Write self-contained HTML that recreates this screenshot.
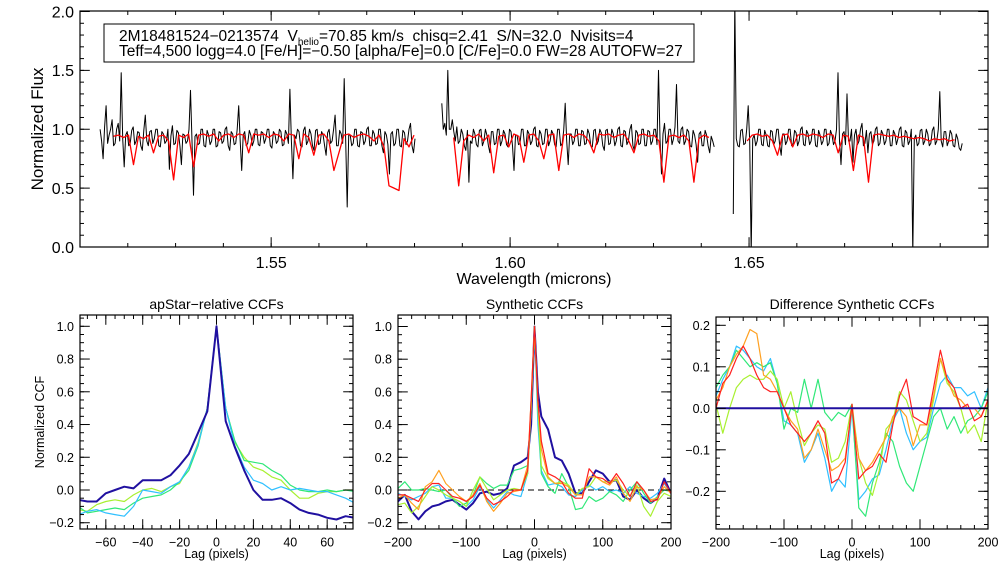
<!DOCTYPE html>
<html><head><meta charset="utf-8"><style>
html,body{margin:0;padding:0;background:#fff;}
svg{display:block;font-family:"Liberation Sans",sans-serif;}
</style></head><body>
<svg id="fig" width="1008" height="576" viewBox="0 0 1008 576" xmlns="http://www.w3.org/2000/svg"></svg>
<script>
// ---------- TOP SPECTRUM DATA ----------
const specXTicks = [1.55, 1.60, 1.65];
const specYTicks = [0.0, 0.5, 1.0, 1.5, 2.0];
const chip1Range = [1.5142, 1.5801];
const chip1Flux = [1.0,0.9,0.75,1.02,1.2,0.88,0.95,1.0,1.08,0.86,0.88,1.0,1.05,0.9,1.48,0.92,0.68,0.95,0.98,0.86,
0.88,0.99,1.02,0.87,0.9,0.98,0.97,0.86,0.82,0.99,1.12,0.9,0.86,0.98,0.99,0.88,0.92,1.0,1.0,0.86,
0.85,0.98,0.96,0.88,0.9,1.0,0.66,0.94,1.03,0.87,0.88,0.99,0.97,0.86,0.7,0.96,0.95,0.88,0.9,1.0,
1.33,0.9,0.44,0.94,0.96,0.87,0.88,1.0,1.0,0.86,0.85,0.99,0.95,0.87,0.9,1.0,1.0,0.85,0.86,0.98,
0.97,0.88,0.9,1.0,1.02,0.86,0.82,0.98,0.96,0.87,0.88,1.0,1.2,0.9,0.65,0.95,0.98,0.86,0.88,0.99,
0.95,0.86,0.9,1.0,1.0,0.87,0.86,0.98,0.97,0.88,0.92,1.0,1.0,0.86,0.84,0.98,0.96,0.88,0.9,1.0,
0.98,0.86,0.87,0.99,0.96,0.88,1.34,0.9,0.58,0.95,0.92,1.0,0.98,0.86,0.85,0.99,1.02,0.87,0.9,1.0,
0.96,0.86,0.82,0.99,1.0,0.87,0.88,0.98,0.95,0.86,0.78,0.97,1.0,0.88,0.9,1.0,1.12,0.86,0.86,0.99,
0.96,0.88,1.43,0.9,0.34,0.95,0.95,0.86,0.88,1.0,1.0,0.86,0.85,0.98,0.97,0.87,0.9,1.0,1.02,0.86,
0.86,0.99,0.96,0.87,0.88,1.0,1.0,0.86,0.8,0.98,0.95,0.87,0.62,0.96,0.98,0.86,0.88,1.0,1.0,0.86,
0.85,0.99,0.97,0.87,0.9,1.0,1.05,0.86,0.8,0.92];
const chip1ModelRange = [1.5170, 1.5799];
const chip1Model = [0.94,0.95,0.93,0.95,0.7,0.94,0.92,0.95,0.8,0.94,
0.95,0.9,0.57,0.95,0.93,0.96,0.68,0.95,0.96,0.94,
0.96,0.9,0.95,0.96,0.93,0.96,0.95,0.8,0.96,0.95,
0.96,0.93,0.96,0.95,0.9,0.96,0.95,0.75,0.96,0.93,
0.78,0.95,0.96,0.9,0.65,0.8,0.95,0.96,0.93,0.95,
0.96,0.94,0.9,0.95,0.85,0.52,0.5,0.48,0.92,0.85,0.95];
const chip2Range = [1.5857, 1.6427];
const chip2Flux = [1.22,1.0,1.05,0.95,1.5,1.0,1.0,1.08,0.98,0.9,1.02,0.88,0.9,1.0,0.96,0.86,0.82,0.99,0.55,0.9,
0.88,1.0,0.96,0.87,0.85,0.99,1.0,0.86,0.9,1.0,0.95,0.86,0.8,0.98,0.98,0.87,0.88,1.0,1.0,0.86,
0.9,0.99,0.96,0.87,0.85,1.0,0.98,0.86,0.65,0.95,0.95,0.87,0.88,1.0,1.0,0.86,0.86,0.99,0.96,0.87,
0.9,1.0,1.02,0.86,0.85,0.99,0.96,0.87,0.88,1.0,1.0,0.86,0.9,0.99,0.96,0.87,0.85,1.0,1.0,0.86,
0.88,0.99,1.22,0.9,0.7,0.96,0.96,0.87,0.9,1.0,1.0,0.86,0.86,0.99,0.98,0.87,0.88,1.0,0.96,0.86,
0.85,0.99,1.0,0.87,0.9,1.0,0.97,0.86,0.82,0.99,1.0,0.87,0.88,1.0,0.96,0.86,0.9,1.0,1.02,0.86,
0.85,0.99,0.98,0.87,0.9,1.0,1.04,0.86,0.82,0.99,0.97,0.87,0.88,1.0,1.0,0.86,0.86,0.99,0.98,0.87,
0.9,1.0,1.0,0.87,1.5,0.92,0.62,0.96,1.05,0.88,0.9,1.0,1.0,0.87,0.92,1.02,1.38,0.9,0.88,1.0,
1.02,0.87,0.9,1.0,0.98,0.86,0.85,0.99,0.95,0.87,0.72,0.96,0.98,0.86,0.86,0.99,0.95,0.86,0.8,0.94,
0.9,0.85];
const chip2ModelRange = [1.5882, 1.6416];
const chip2Model = [0.93,0.52,0.9,0.95,0.93,0.96,0.9,0.95,0.63,0.94,
0.95,0.85,0.96,0.94,0.72,0.95,0.96,0.9,0.75,0.95,
0.96,0.65,0.95,0.96,0.93,0.96,0.95,0.9,0.8,0.96,
0.95,0.96,0.93,0.95,0.96,0.9,0.8,0.95,0.96,0.94,
0.95,0.9,0.55,0.94,0.95,0.93,0.95,0.9,0.55,0.92,0.95,0.93];
const chip3Range = [1.6467, 1.6946];
const chip3Flux = [0.28,2.1,
0.92,0.86,0.85,0.99,1.0,0.87,0.88,1.0,1.2,0.9,-0.05,0.92,0.95,0.86,0.9,1.0,1.0,0.87,0.86,0.99,
0.95,0.86,0.85,0.99,0.98,0.87,0.9,1.0,1.0,0.86,0.78,0.96,0.96,0.87,0.9,1.0,1.0,0.86,0.88,0.99,
0.97,0.86,0.9,1.0,1.02,0.87,0.86,0.99,0.96,0.87,0.9,1.0,1.0,0.86,0.85,0.99,0.95,0.87,0.9,1.0,
1.0,0.86,0.88,0.99,0.95,0.87,0.9,1.0,1.48,0.9,0.7,0.96,0.98,0.87,1.3,0.9,0.9,1.0,0.72,0.95,
1.0,0.87,0.9,1.0,1.05,0.86,0.88,0.99,0.8,0.96,0.98,0.87,0.9,1.0,1.02,0.86,0.88,0.99,0.96,0.87,
0.9,1.0,1.0,0.86,0.86,0.99,0.96,0.87,0.92,1.0,1.02,0.86,0.85,0.99,0.97,0.87,0.9,1.0,-0.05,0.92,
0.95,0.86,0.88,0.99,1.0,0.87,0.9,1.0,0.96,0.86,0.88,0.99,1.02,0.87,0.9,1.0,1.32,0.9,0.85,0.98,
0.98,0.86,0.9,0.99,0.96,0.86,0.85,0.96,0.92,0.84,0.82,0.88];
const chip3ModelRange = [1.6496, 1.6930];
const chip3Model = [0.9,0.95,0.96,0.94,0.95,0.9,0.78,0.95,0.96,0.85,
0.95,0.96,0.94,0.96,0.95,0.93,0.96,0.95,0.8,0.95,
0.94,0.65,0.95,0.93,0.55,0.95,0.96,0.95,0.94,0.95,
0.93,0.94,0.93,0.92,0.93,0.92,0.9,0.92,0.91,0.92,0.9,0.91];

// ---------- CCF PANEL 1 DATA ----------
const p1Lags = [-75,-70,-65,-60,-55,-50,-45,-40,-35,-30,-25,-20,-15,-10,-5,0,5,10,15,20,25,30,35,40,45,50,55,60,65,70,75];
const p1XTicks = [-60,-40,-20,0,20,40,60];
const p1YTicks = [-0.2,0.0,0.2,0.4,0.6,0.8,1.0];
const p1Navy = [-0.06,-0.07,-0.07,-0.02,0.0,0.02,0.01,0.06,0.06,0.06,0.09,0.15,0.22,0.35,0.48,1.0,0.42,0.26,0.12,0.0,-0.06,-0.06,-0.05,-0.08,-0.12,-0.14,-0.15,-0.17,-0.18,-0.16,-0.17];
const p1Cyan = [-0.15,-0.13,-0.12,-0.14,-0.15,-0.16,-0.1,0.0,-0.01,-0.02,0.02,0.05,0.14,0.28,0.5,1.0,0.5,0.27,0.14,0.06,0.04,0.0,0.02,0.0,0.01,0.0,-0.01,-0.01,-0.03,-0.05,-0.08];
const p1Green = [-0.1,-0.14,-0.13,-0.12,-0.11,-0.12,-0.08,-0.05,-0.04,-0.03,0.0,0.05,0.12,0.27,0.5,1.0,0.5,0.3,0.18,0.17,0.16,0.12,0.09,0.03,0.0,-0.01,-0.01,0.0,-0.01,0.0,-0.01];
const p1Lime = [-0.12,-0.13,-0.09,-0.07,-0.06,-0.07,-0.03,0.0,0.01,-0.01,0.02,0.04,0.14,0.29,0.5,1.0,0.5,0.29,0.2,0.14,0.12,0.08,0.06,0.0,-0.05,-0.05,-0.02,-0.01,-0.01,0.0,0.0];

// ---------- CCF PANEL 2 DATA ----------
const p2Lags = [-200,-190,-180,-170,-160,-150,-140,-130,-120,-110,-100,-90,-80,-70,-60,-50,-40,-30,-20,-10,-5,0,5,10,20,30,40,50,60,70,80,90,100,110,120,130,140,150,160,170,180,190,200];
const p2XTicks = [-200,-100,0,100,200];
const p2YTicks = [-0.2,0.0,0.2,0.4,0.6,0.8,1.0];
const p2Navy = [-0.07,-0.03,-0.13,-0.18,-0.13,-0.1,-0.09,-0.07,-0.06,-0.09,-0.12,-0.08,-0.02,-0.01,-0.03,-0.02,0.01,0.15,0.17,0.2,0.4,1.0,0.6,0.45,0.37,0.2,0.18,0.1,-0.02,-0.02,0.05,0.12,0.1,0.05,0.06,-0.04,-0.06,0.0,-0.05,-0.08,-0.05,0.07,-0.02];
const p2Cyan = [-0.02,-0.04,-0.06,-0.04,-0.02,0.02,0.03,-0.05,-0.05,-0.07,-0.1,-0.06,0.02,-0.06,-0.11,-0.06,-0.01,-0.03,-0.04,0.1,0.5,1.0,0.4,0.12,0.03,0.04,0.02,-0.03,-0.04,0.0,0.03,0.0,0.02,-0.01,0.0,-0.02,0.02,-0.02,-0.04,-0.05,-0.02,0.04,-0.02];
const p2Green = [0.01,0.05,0.0,0.0,0.01,0.0,-0.01,0.0,-0.05,-0.1,-0.08,-0.03,0.08,0.04,0.01,0.03,0.03,0.12,0.13,0.15,0.5,1.0,0.5,0.1,0.02,-0.02,0.1,0.02,-0.12,-0.11,-0.04,-0.07,-0.05,-0.01,-0.03,-0.07,0.0,0.05,-0.02,-0.08,-0.04,0.0,-0.01];
const p2Lime = [-0.09,-0.08,-0.14,-0.1,-0.04,0.02,0.0,-0.03,-0.05,-0.07,-0.1,0.0,0.08,0.01,-0.06,-0.03,0.0,0.01,0.0,0.1,0.5,1.0,0.5,0.15,0.07,0.04,0.05,0.03,-0.03,0.01,0.02,0.08,0.05,0.05,0.06,0.0,-0.04,0.03,-0.1,-0.16,-0.07,-0.02,-0.04];
const p2Orange = [-0.05,-0.03,-0.08,-0.12,0.02,0.05,0.12,0.04,0.0,-0.04,-0.07,-0.03,0.04,-0.07,-0.13,-0.08,-0.02,-0.01,0.0,0.15,0.55,1.0,0.55,0.25,0.08,0.04,0.04,0.02,-0.03,-0.03,0.08,0.08,0.05,0.03,0.08,-0.02,-0.07,0.02,0.0,-0.06,-0.05,0.02,-0.02];
const p2Red = [-0.03,-0.03,-0.05,-0.07,0.0,0.04,0.04,0.0,-0.04,-0.05,-0.07,-0.04,0.03,-0.05,-0.09,-0.07,-0.04,0.0,0.0,0.12,0.55,1.0,0.55,0.3,0.1,0.08,0.05,-0.02,-0.05,-0.05,0.13,0.08,0.07,0.04,0.1,0.04,-0.04,0.05,0.0,-0.07,-0.06,0.05,-0.02];

// ---------- CCF PANEL 3 DATA ----------
const p3Lags = [-200,-190,-180,-170,-160,-150,-140,-130,-120,-110,-100,-90,-80,-70,-60,-50,-40,-30,-20,-10,0,10,20,30,40,50,60,70,80,90,100,110,120,130,140,150,160,170,180,190,200];
const p3XTicks = [-200,-100,0,100,200];
const p3YTicks = [-0.2,-0.1,0.0,0.1,0.2];
const p3Cyan = [0.03,0.07,0.1,0.15,0.14,0.12,0.1,0.09,0.12,0.06,-0.03,-0.04,-0.06,-0.13,-0.1,-0.06,-0.12,-0.2,-0.17,-0.19,0.0,-0.22,-0.2,-0.17,-0.16,-0.1,-0.03,0.0,-0.06,-0.1,-0.08,-0.07,0.0,0.06,0.08,0.05,0.05,0.03,0.04,0.0,0.05];
const p3Green = [0.05,0.08,0.1,0.14,0.12,0.1,0.11,0.1,0.11,0.06,-0.05,0.0,-0.01,0.07,0.0,0.07,-0.01,-0.03,-0.01,-0.02,0.01,-0.24,-0.26,-0.18,-0.13,-0.06,-0.08,-0.14,-0.18,-0.2,-0.14,-0.08,-0.02,0.0,-0.05,-0.02,-0.06,-0.03,-0.02,0.0,0.04];
const p3Lime = [0.01,-0.06,0.0,0.05,0.07,0.08,0.07,0.07,0.09,0.07,0.0,0.04,-0.03,-0.09,-0.06,-0.04,-0.05,-0.13,-0.12,-0.08,0.01,-0.12,-0.18,-0.21,-0.15,-0.05,-0.03,0.04,0.02,-0.03,-0.08,-0.06,0.02,0.12,0.06,0.04,0.0,-0.06,-0.04,-0.08,0.02];
const p3Orange = [0.02,0.05,0.1,0.13,0.15,0.19,0.18,0.08,0.07,0.04,0.0,-0.03,-0.05,-0.12,-0.1,-0.05,-0.1,-0.15,-0.14,-0.12,0.0,-0.12,-0.15,-0.13,-0.1,-0.07,-0.02,0.0,-0.02,-0.09,-0.04,-0.04,0.03,0.12,0.07,0.03,0.02,0.0,0.0,-0.02,0.02];
const p3Red = [0.0,0.06,0.08,0.12,0.15,0.12,0.08,0.05,0.04,0.04,0.0,-0.04,-0.06,-0.08,-0.06,-0.03,-0.06,-0.18,-0.17,-0.13,0.01,-0.17,-0.15,-0.14,-0.11,-0.13,-0.04,0.03,0.07,-0.02,-0.03,-0.04,0.05,0.14,0.07,0.05,0.0,0.01,-0.03,-0.02,0.02];
const p3Navy = [0,0,0,0,0,0,0,0,0,0,0,0,0,0,0,0,0,0,0,0,0,0,0,0,0,0,0,0,0,0,0,0,0,0,0,0,0,0,0,0,0];

const NS = "http://www.w3.org/2000/svg";
const svg = document.getElementById('fig');
function mk(tag, attrs, parent) {
  const e = document.createElementNS(NS, tag);
  for (const k in attrs) e.setAttribute(k, attrs[k]);
  (parent || svg).appendChild(e);
  return e;
}
function lin(d0, d1, r0, r1) { return v => r0 + (v - d0) * (r1 - r0) / (d1 - d0); }
function fmt(v, dec) { const s = v.toFixed(dec); return s.replace('-', '\u2212'); }

function axes(g, box, xs, ys, xt, yt, xMinor, yMinor, xDec, yDec, fs, name) {
  const [L, T, R, B] = box;
  const fr = mk('rect', {x: L, y: T, width: R - L, height: B - T, fill: 'none', stroke: '#000', 'stroke-width': 1.2}, g);
  
  
  const majL = 7, minL = 4;
  xMinor.forEach(v => {
    const x = xs(v);
    mk('line', {x1: x, y1: B, x2: x, y2: B - minL, stroke: '#000'}, g);
    mk('line', {x1: x, y1: T, x2: x, y2: T + minL, stroke: '#000'}, g);
  });
  yMinor.forEach(v => {
    const y = ys(v);
    mk('line', {x1: L, y1: y, x2: L + minL, y2: y, stroke: '#000'}, g);
    mk('line', {x1: R, y1: y, x2: R - minL, y2: y, stroke: '#000'}, g);
  });
  xt.forEach(v => {
    const x = xs(v);
    mk('line', {x1: x, y1: B, x2: x, y2: B - majL*1.4, stroke: '#000'}, g);
    mk('line', {x1: x, y1: T, x2: x, y2: T + majL*1.4, stroke: '#000'}, g);
    const t = mk('text', {x: x, y: B + fs + 5, 'font-size': fs, 'text-anchor': 'middle'}, g);
    t.textContent = fmt(v, xDec);
    
    
  });
  yt.forEach(v => {
    const y = ys(v);
    mk('line', {x1: L, y1: y, x2: L + majL*1.4, y2: y, stroke: '#000'}, g);
    mk('line', {x1: R, y1: y, x2: R - majL*1.4, y2: y, stroke: '#000'}, g);
    const t = mk('text', {x: L - 6, y: y + fs*0.36, 'font-size': fs, 'text-anchor': 'end'}, g);
    t.textContent = fmt(v, yDec);
    
    
  });
}
function range(a, b, step) { const r = []; for (let v = a; v <= b + 1e-9; v += step) r.push(+v.toFixed(6)); return r; }
function poly(g, xsArr, ysArr, xs, ys, color, w, name, clipId) {
  const pts = xsArr.map((v, i) => xs(v).toFixed(1) + ',' + ys(ysArr[i]).toFixed(1)).join(' ');
  const p = mk('polyline', {points: pts, fill: 'none', stroke: color, 'stroke-width': w, 'stroke-linejoin': 'round'}, g);
  if (clipId) p.setAttribute('clip-path', 'url(#' + clipId + ')');
  
  
  return p;
}
function grid(r, n) { const out = []; for (let i = 0; i < n; i++) out.push(r[0] + (r[1] - r[0]) * i / (n - 1)); return out; }

const defs = mk('defs', {});
function clip(id, box) {
  const c = mk('clipPath', {id: id}, defs);
  mk('rect', {x: box[0], y: box[1], width: box[2] - box[0], height: box[3] - box[1]}, c);
}

// ---------- TOP PANEL ----------
const topBox = [80, 11, 988, 247];
clip('clipTop', topBox);
const gTop = mk('g', {});


const sx = lin(1.51, 1.70, 80, 988);
const sy = lin(0, 2.0, 247, 11.5);
const chips = [[chip1Range, chip1Flux, chip1ModelRange, chip1Model], [chip2Range, chip2Flux, chip2ModelRange, chip2Model], [chip3Range, chip3Flux, chip3ModelRange, chip3Model]];
chips.forEach((c, k) => {
  poly(gTop, grid(c[0], c[1].length), c[1], sx, sy, '#000', 1, 'observed-spectrum-chip' + (k + 1), 'clipTop');
});
chips.forEach((c, k) => {
  poly(gTop, grid(c[2], c[3].length), c[3], sx, sy, '#ff0000', 1.3, 'model-spectrum-chip' + (k + 1), 'clipTop');
});
axes(gTop, topBox, sx, sy, specXTicks, specYTicks, range(1.52, 1.69, 0.01), range(0.1, 1.9, 0.1), 2, 1, 16, 'spectrum');
{
  const t = mk('text', {x: 534, y: 284, 'font-size': 16, 'text-anchor': 'middle'});
  t.textContent = 'Wavelength (microns)';
  
  
  const t2 = mk('text', {x: 0, y: 0, 'font-size': 17, 'text-anchor': 'middle', transform: 'translate(43,129) rotate(-90)'});
  t2.textContent = 'Normalized Flux';
  
  
  const box = mk('rect', {x: 104, y: 24, width: 590, height: 38, fill: '#fff', stroke: '#000', 'stroke-width': 1});
  
  
  const l1 = mk('text', {x: 119, y: 41, 'font-size': 15.5});
  l1.innerHTML = '2M18481524\u22120213574&#160;&#160;V<tspan font-size="10" dy="4">helio</tspan><tspan dy="-4">=70.85 km/s&#160;&#160;chisq=2.41&#160;&#160;S/N=32.0&#160;&#160;Nvisits=4</tspan>';
  
  
  const l2 = mk('text', {x: 119, y: 56, 'font-size': 15.5});
  l2.textContent = 'Teff=4,500 logg=4.0 [Fe/H]=\u22120.50 [alpha/Fe]=0.0 [C/Fe]=0.0 FW=28 AUTOFW=27';
  
  
}

// ---------- BOTTOM PANELS ----------
const C = {navy: '#2010a0', cyan: '#30c0ff', green: '#30e878', lime: '#a8f030', orange: '#ffa020', red: '#ff2020'};
function panel(name, box, xd, yd, xt, yt, xMin, yMin, xDec, yDec, title, series, lags, dashed, yTitle) {
  const g = mk('g', {});
  
  
  clip('clip-' + name, box);
  const xs = lin(xd[0], xd[1], box[0], box[2]);
  const ys = lin(yd[0], yd[1], yd[2], yd[3]);
  if (dashed) {
    const d = mk('line', {x1: box[0], y1: ys(0), x2: box[2], y2: ys(0), stroke: '#000', 'stroke-dasharray': '6,4', 'stroke-width': 1}, g);
    
    
  }
  series.forEach(s => poly(g, lags, s[1], xs, ys, C[s[0]], s[2], name + '-' + s[0] + '-ccf', 'clip-' + name));
  axes(g, box, xs, ys, xt, yt, xMin, yMin, xDec, yDec, 12.5, name);
  const t = mk('text', {x: (box[0] + box[2]) / 2, y: 309, 'font-size': 14, 'text-anchor': 'middle'}, g);
  t.textContent = title;
  
  
  const xl = mk('text', {x: (box[0] + box[2]) / 2, y: 558, 'font-size': 12.5, 'text-anchor': 'middle'}, g);
  xl.textContent = 'Lag (pixels)';
  
  
  if (yTitle) {
    const yl = mk('text', {x: 0, y: 0, 'font-size': 12.5, 'text-anchor': 'middle', transform: 'translate(44,422) rotate(-90)'}, g);
    yl.textContent = yTitle;
    
    
  }
}
panel('apstar-ccf-panel', [80, 315, 353, 529], [-74, 74], [0, 1, 490, 326.3], p1XTicks, p1YTicks, range(-70, 70, 5), range(-0.2, 1.05, 0.05), 0, 1, 'apStar\u2212relative CCFs',
  [['lime', p1Lime, 1.2], ['green', p1Green, 1.2], ['cyan', p1Cyan, 1.2], ['navy', p1Navy, 2]], p1Lags, false, 'Normalized CCF');
panel('synthetic-ccf-panel', [398, 315, 671, 529], [-200, 200], [0, 1, 490, 326.5], p2XTicks, p2YTicks, range(-180, 180, 20), range(-0.2, 1.05, 0.05), 0, 1, 'Synthetic CCFs',
  [['navy', p2Navy, 2], ['cyan', p2Cyan, 1.2], ['green', p2Green, 1.2], ['lime', p2Lime, 1.2], ['orange', p2Orange, 1.2], ['red', p2Red, 1.2]], p2Lags, true, null);
panel('difference-ccf-panel', [716, 317, 988, 529], [-200, 200], [0, 0.1, 408.3, 366.8], p3XTicks, p3YTicks, range(-180, 180, 20), range(-0.28, 0.2, 0.02), 0, 1, 'Difference Synthetic CCFs',
  [['cyan', p3Cyan, 1.2], ['green', p3Green, 1.2], ['lime', p3Lime, 1.2], ['orange', p3Orange, 1.2], ['red', p3Red, 1.2], ['navy', p3Navy, 2]], p3Lags, true, null);
</script>
</body></html>
